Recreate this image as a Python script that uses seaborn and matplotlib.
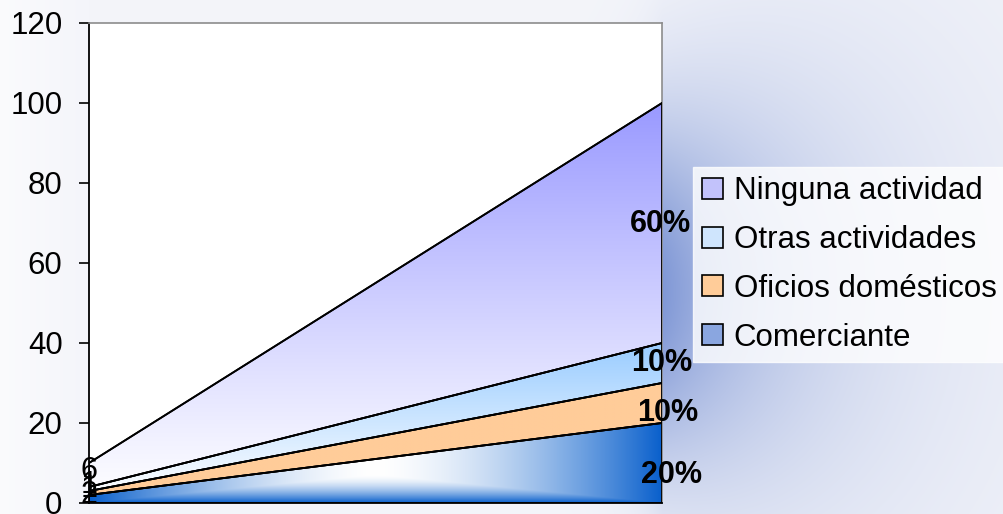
import numpy as np
import pandas as pd
import matplotlib.pyplot as plt
import seaborn as sns
from matplotlib.patches import Patch

# data
periods = [0, 1]
series_names = ["Comerciante", "Oficios domésticos", "Otras actividades", "Ninguna actividad"]
comerciante = [2, 20]
oficios = [1, 10]
otras = [1, 10]
ninguna = [6, 60]
left_labels = ["2", "1", "1", "6"]
right_labels = ["20%", "10%", "10%", "60%"]
y_ticks = [0, 20, 40, 60, 80, 100, 120]

sns.set_theme(style="white")
plt.rcParams["font.family"] = ["Liberation Sans", "DejaVu Sans"]
plt.rcParams["text.color"] = "black"
plt.rcParams["ytick.color"] = "black"
plt.rcParams["xtick.color"] = "black"

W, H = 1004, 514
fig = plt.figure(figsize=(W / 100, H / 100), dpi=100)

# page background: pale blue-grey with a soft glow to the right of the plot
px, py = np.meshgrid(np.arange(W), np.arange(H))
base = np.array([244, 245, 250]) / 255
glow = np.array([122, 147, 212]) / 255
dx = np.clip(px - 662, 0, None)
g = np.where(px >= 662, np.exp(-dx / 150), np.exp(-(662 - px) / 30.0))
h = np.exp(-((py - 290) / (180 + 0.55 * dx)) ** 2)
k = (g * h)[..., None] * 0.95
left_fade = np.clip(1 - px / 89, 0, 1)[..., None] * 0.6
img = base * (1 - left_fade) + left_fade
img = img * (1 - k) + glow * k
bg = fig.add_axes([0, 0, 1, 1], zorder=0)
bg.imshow(img, extent=[0, W, H, 0], aspect="auto")
bg.set_xlim(0, W)
bg.set_ylim(H, 0)
bg.axis("off")

ax = fig.add_axes([89 / W, 1 - 503 / H, (662 - 89) / W, (503 - 23) / H], zorder=1)
ax.set_facecolor("white")

layers = [comerciante, oficios, otras, ninguna]
x = np.array(periods, dtype=float)
cum = np.cumsum(np.array(layers, dtype=float), axis=0)
lowers = np.vstack([np.zeros(len(periods)), cum[:-1]])


def white_mix(rgb, t):
    c = np.array(rgb) / 255
    t = np.clip(t, 0, 1)[..., None]
    return (1 - t) * 1.0 + t * c


def grad_ninguna(X, Y):
    return white_mix((153, 153, 255), (Y / 100) ** 1.1)


def grad_otras(X, Y):
    return white_mix((153, 204, 255), (Y - 2) / 38)


def grad_oficios(X, Y):
    return white_mix((255, 204, 153), np.ones_like(X))


def grad_comerciante(X, Y):
    t = np.maximum(np.abs(X - 0.5) / 0.5, (7 - Y) / 7)
    return white_mix((10, 96, 204), t ** 1.6)


grads = [grad_comerciante, grad_oficios, grad_otras, grad_ninguna]

GX, GY = np.meshgrid(np.linspace(0, 1, 400), np.linspace(0, 120, 600))
for lo, hi, fn in zip(lowers, cum, grads):
    poly = ax.fill_between(x, lo, hi, facecolor="none", edgecolor="black",
                           linewidth=1.3, zorder=3)
    im = ax.imshow(fn(GX, GY), extent=[0, 1, 0, 120], origin="lower",
                   aspect="auto", zorder=2, interpolation="bilinear")
    im.set_clip_path(poly.get_paths()[0], transform=ax.transData)

long = pd.DataFrame({
    "period": np.tile(periods, len(series_names)),
    "top": cum.ravel(),
    "serie": np.repeat(series_names, len(periods)),
})
sns.lineplot(data=long, x="period", y="top", hue="serie",
             palette=["black"] * len(series_names), linewidth=1.3,
             legend=False, ax=ax, zorder=4)

ax.set_xlim(0, 1)
ax.set_ylim(0, 120)
ax.set_yticks(y_ticks)
ax.set_xticks([])
ax.set_xlabel("")
ax.set_ylabel("")
ax.tick_params(axis="y", direction="out", length=7, width=1.2, color="black",
               labelcolor="black", labelsize=22.5, pad=12, left=True)
for side in ["left", "bottom"]:
    ax.spines[side].set_color("black")
    ax.spines[side].set_linewidth(1.3)
for side in ["top", "right"]:
    ax.spines[side].set_color("#8c8c8c")
    ax.spines[side].set_linewidth(1.2)

# data labels
mids = (lowers + cum) / 2
right_dx = [10, 6, 0, -2]
right_dy = [-12, -10, 0, -1]
for i, lab in enumerate(right_labels):
    ax.annotate(lab, (1, mids[i, 1]), xytext=(right_dx[i], right_dy[i]),
                textcoords="offset pixels", ha="center", va="center",
                fontsize=22, fontweight="bold", color="black", zorder=6,
                annotation_clip=False)
for i, lab in enumerate(left_labels):
    ax.annotate(lab, (0, mids[i, 0]), xytext=(0, 4), textcoords="offset pixels",
                ha="center", va="center", fontsize=22, color="black", zorder=6,
                annotation_clip=False)

handle_colors = ["#c2c2fb", "#cfe5fd", "#ffcc99", "#8aa6e0"]
handles = [Patch(facecolor=c, edgecolor="black", linewidth=1.2) for c in handle_colors]
leg = fig.legend(handles, series_names[::-1], loc="upper left",
                 bbox_to_anchor=(693 / W, 1 - 167 / H), frameon=True,
                 fancybox=False, fontsize=22.5, handlelength=0.65,
                 handleheight=0.65, handletextpad=0.35, labelspacing=0.6,
                 borderpad=0.3, borderaxespad=0, labelcolor="black")
leg.get_frame().set_facecolor("white")
leg.get_frame().set_edgecolor("white")
leg.set_zorder(10)

fig.savefig("out.png", dpi=100)
